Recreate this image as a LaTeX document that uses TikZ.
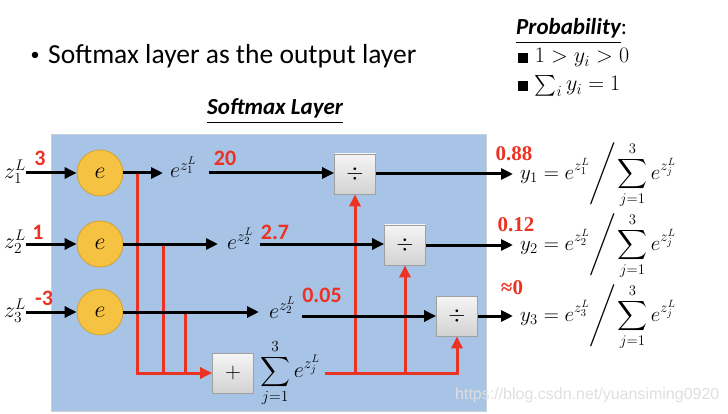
\documentclass[tikz,border=0pt]{standalone}
\usepackage{fix-cm}
\usepackage{exscale}
\usepackage{fontspec}
\newfontfamily\carl{Carlito}
\newfontfamily\tnr{Liberation Serif}
\newfontfamily\arial{Liberation Sans}
\usetikzlibrary{arrows.meta}
\definecolor{bluebg}{RGB}{167,196,230}
\definecolor{bluebd}{RGB}{200,208,216}
\definecolor{circ}{RGB}{245,194,66}
\definecolor{circd}{RGB}{212,162,50}
\definecolor{myred}{RGB}{234,51,35}
\definecolor{boxbd}{RGB}{160,160,160}
\newcommand{\myslash}{\mathord{\nulldelimiterspace=0pt\relax\left/\vcenter to 58pt{}\right.}\!}
\tikzset{
  blk/.style={line width=3pt, -{Triangle[length=12pt,width=11pt]}},
  redl/.style={line width=3pt, draw=myred},
  redarr/.style={redl, -{Triangle[length=12pt,width=11pt]}},
  enode/.style={circle, minimum size=46pt, inner sep=0pt, fill=circ, draw=circd, line width=0.8pt, font=\fontsize{24}{28}\selectfont},
  opbox/.style={minimum width=41pt, minimum height=40pt, inner sep=0pt, top color=gray!8, bottom color=gray!35, draw=boxbd, line width=0.8pt, font=\fontsize{22}{26}\selectfont},
  rednum/.style={text=myred, font=\carl\bfseries\fontsize{22}{24}\selectfont, inner sep=0pt},
  rednumt/.style={text=myred, font=\tnr\bfseries\fontsize{21}{24}\selectfont, inner sep=0pt},
  mlab/.style={font=\fontsize{22}{26}\selectfont, inner sep=0pt},
  outf/.style={font=\fontsize{21}{25}\selectfont, inner sep=0pt, anchor=west},
}
\begin{document}
\begin{tikzpicture}[x=1pt,y=-1pt]
\useasboundingbox (0,0) rectangle (728,414);
% headings
\node[font=\carl\fontsize{18}{20}\selectfont, inner sep=0pt] (bul) at (35,56) {\textbullet};
\node[anchor=base west, font=\carl\fontsize{27.5}{30}\selectfont, inner sep=0pt] (title) at (48,64) {Softmax layer as the output layer};
\node[anchor=base west, font=\carl\bfseries\itshape\fontsize{23}{26}\selectfont, inner sep=0pt] (prob) at (516,35) {\underline{Probability}\textmd{\upshape:}};
\node[anchor=base west, font=\fontsize{22}{26}\selectfont, inner sep=0pt] (p1) at (518,63) {\rule{10pt}{10pt}\ $1 > y_i > 0$};
\node[anchor=base west, font=\fontsize{22}{26}\selectfont, inner sep=0pt] (p2) at (518,91) {\rule{10pt}{10pt}\ $\sum_i y_i = 1$};
\node[anchor=base west, font=\carl\bfseries\itshape\fontsize{23}{26}\selectfont, inner sep=0pt] (smx) at (207,115) {\underline{Softmax Layer}};
% layer box
\path[fill=bluebg, draw=bluebd, line width=1pt] (51,135) rectangle (486,411);
% nodes
\node[mlab] (in1) at (15,172) {$z_1^L$};
\node[mlab] (in2) at (15,242) {$z_2^L$};
\node[mlab] (in3) at (15,311) {$z_3^L$};
\node[enode] (c1) at (100,173) {$e$};
\node[enode] (c2) at (100,244) {$e$};
\node[enode] (c3) at (100,312) {$e$};
\node[mlab, anchor=base west] (ex1) at (170,178) {$e^{z_1^L}$};
\node[mlab, anchor=base west] (ex2) at (227,249) {$e^{z_2^L}$};
\node[mlab, anchor=base west] (ex3) at (269,318) {$e^{z_2^L}$};
\node[opbox] (d1) at (355,174) {$\div$};
\node[opbox] (d2) at (405,245) {$\div$};
\node[opbox] (d3) at (457,316) {$\div$};
\node[opbox] (plus) at (233,373) {$+$};
\node[mlab, anchor=west] (sum) at (260,373) {$\displaystyle\sum_{j=1}^{3} e^{z_j^L}$};
% red numbers
\node[rednum] (n1) at (40,158) {3};
\node[rednum] (n2) at (38,232) {1};
\node[rednum] (n3) at (44,298) {-3};
\node[rednum] (n4) at (225,158) {20};
\node[rednum] (n5) at (275,232) {2.7};
\node[rednum] (n6) at (322,295) {0.05};
\node[rednumt] (n7) at (514,154) {0.88};
\node[rednumt] (n8) at (516,225) {0.12};
\node[rednumt] (n9) at (512,288) {≈0};
% outputs
\node[outf] (f1) at (520,175) {$\displaystyle y_1 = e^{z_1^L}\myslash\sum_{j=1}^{3} e^{z_j^L}$};
\node[outf] (f2) at (520,246) {$\displaystyle y_2 = e^{z_2^L}\myslash\sum_{j=1}^{3} e^{z_j^L}$};
\node[outf] (f3) at (520,317) {$\displaystyle y_3 = e^{z_3^L}\myslash\sum_{j=1}^{3} e^{z_j^L}$};
\coordinate (o1) at (513,173);
\coordinate (o2) at (513,244);
\coordinate (o3) at (513,314);
% red taps
\coordinate (t1) at (137,173);
\coordinate (t2) at (163,244);
\coordinate (t3) at (185,312);
\draw[redarr] (t1) |- (plus.west);
\draw[redl] (t2) -- (t2 |- plus.west);
\draw[redl] (t3) -- (t3 |- plus.west);
\draw[redarr, shorten <=5pt] (sum.east |- plus.west) -| (d3.south);
\draw[redarr] (d1.south |- plus.west) -- (d1.south);
\draw[redarr] (d2.south |- plus.west) -- (d2.south);
% black arrows
\draw[blk] (in1.east |- c1.west) -- (c1.west);
\draw[blk] (in2.east |- c2.west) -- (c2.west);
\draw[blk] (in3.east |- c3.west) -- (c3.west);
\draw[blk, shorten >=7pt] (c1.east) -- (c1.east -| ex1.west);
\draw[blk, shorten >=9pt] (c2.east) -- (c2.east -| ex2.west);
\draw[blk, shorten >=10pt] (c3.east) -- (c3.east -| ex3.west);
\draw[blk, shorten <=12pt] (c1.east -| ex1.east) -- (c1.east -| d1.west);
\draw[blk, shorten <=6pt] (c2.east -| ex2.east) -- (c2.east -| d2.west);
\draw[blk, shorten <=6pt] (d3.west -| ex3.east) -- (d3.west);
\draw[blk] (d1.east) -- (d1.east -| o1);
\draw[blk] (d2.east) -- (d2.east -| o2);
\draw[blk] (d3.east) -- (d3.east -| o3);
% watermark
\node[anchor=base west, font=\arial\fontsize{16}{18}\selectfont, text=gray!25, inner sep=0pt] (wm) at (455,399) {https://blog.csdn.net/yuansiming0920};
\end{tikzpicture}
\end{document}
